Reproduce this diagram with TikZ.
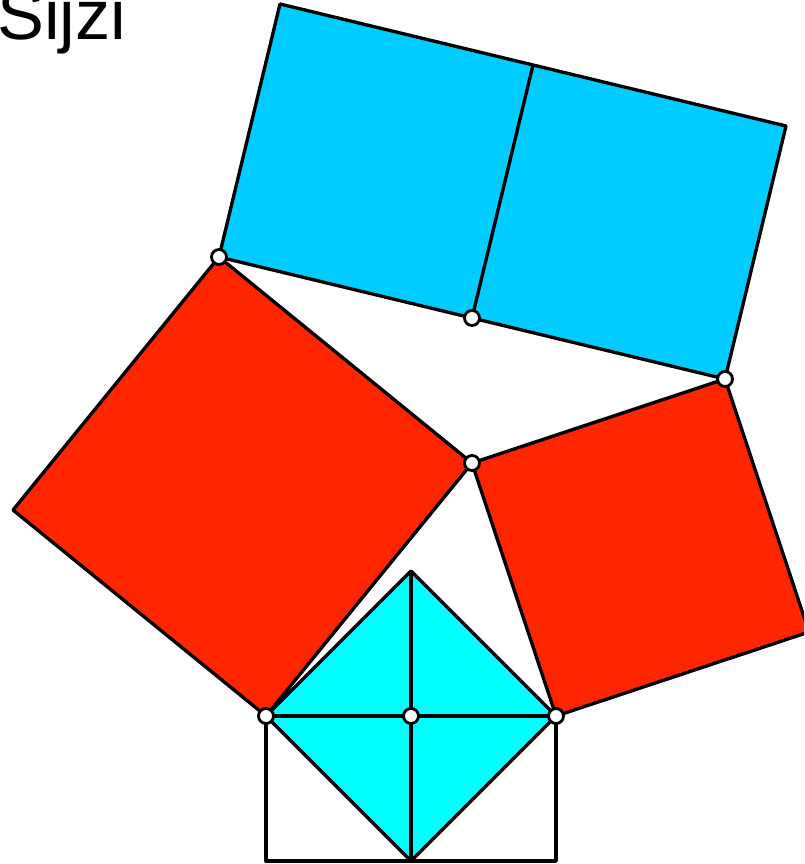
\documentclass[tikz,border=0pt]{standalone}
\usepackage{fontspec}
\setmainfont{Liberation Sans}
\usetikzlibrary{calc}
\definecolor{redsq}{HTML}{FF2600}
\definecolor{bluesq}{HTML}{00CCFF}
\definecolor{cyansq}{HTML}{00FFFF}

\begin{document}
\begin{tikzpicture}[
    x=0.02cm, y=-0.02cm,
    face/.style={draw=black, line width=1.9pt, line join=round},
    edge/.style={draw=black, line width=1.9pt},
    pt/.style={
        circle,
        draw=black,
        fill=white,
        line width=1.6pt,
        inner sep=0pt,
        minimum size=0.3cm
    }
]
\useasboundingbox (0,0) rectangle (804,864);
\clip (0,0) rectangle (804,864);

% Triangle
\coordinate (A) at (266,716);
\coordinate (B) at (556,716);
\coordinate (C) at (472,463);

% Square on AC
\coordinate (D) at (219,257);
\coordinate (F) at (13,510);

% Square on CB
\coordinate (E) at (725,379);
\coordinate (G) at (809,632);

% Two squares on DE
\coordinate (M) at ($(D)!0.5!(E)$);
\coordinate (H1) at ($(D)+(61,-253)$);
\coordinate (H2) at ($(M)+(61,-253)$);
\coordinate (H3) at ($(E)+(61,-253)$);

% Square on AB and half square below
\coordinate (N) at ($(A)!0.5!(B)$);
\coordinate (T) at (411,571);
\coordinate (U) at (411,861);
\coordinate (AU) at (266,861);
\coordinate (BU) at (556,861);

% Title
\node[anchor=base west, inner sep=0pt, font=\fontsize{40}{48}\selectfont] (title) at (-3,40) {Sijzi};

% Red squares
\path[face, fill=redsq] (A) -- (C) -- (D) -- (F) -- cycle;
\path[face, fill=redsq] (C) -- (B) -- (G) -- (E) -- cycle;

% Blue squares
\path[face, fill=bluesq] (D) -- (E) -- (H3) -- (H1) -- cycle;
\draw[edge] (M) -- (H2);

% Bottom
\path[face] (A) -- (AU) -- (BU) -- (B);
\path[face, fill=cyansq] (A) -- (T) -- (B) -- (U) -- cycle;
\draw[edge] (A) -- (B);
\draw[edge] (T) -- (U);

% Points
\node[pt] (pA) at (A) {};
\node[pt] (pB) at (B) {};
\node[pt] (pC) at (C) {};
\node[pt] (pD) at (D) {};
\node[pt] (pE) at (E) {};
\node[pt] (pM) at (M) {};
\node[pt] (pN) at (N) {};

\end{tikzpicture}
\end{document}
